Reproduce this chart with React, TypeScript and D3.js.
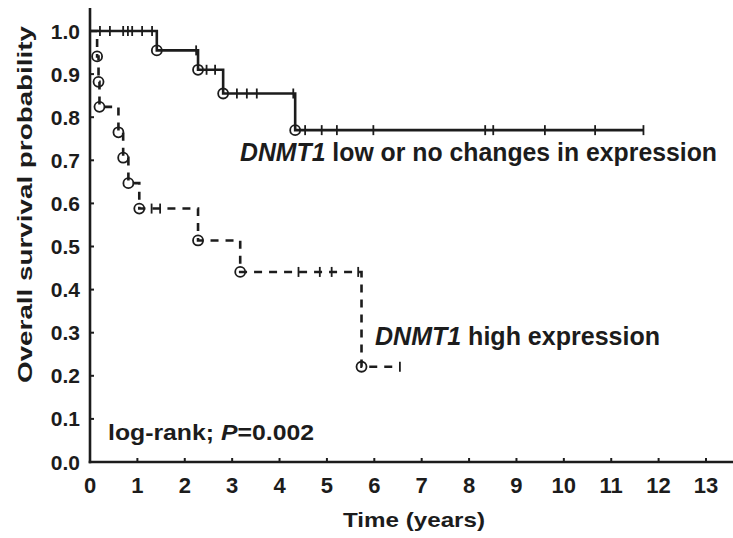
import React from "react";
import * as d3 from "d3";

const W = 733;
const H = 538;

const xTicks = [0, 1, 2, 3, 4, 5, 6, 7, 8, 9, 10, 11, 12, 13];
const yTicks = [0, 0.1, 0.2, 0.3, 0.4, 0.5, 0.6, 0.7, 0.8, 0.9, 1.0];

// DNMT1 low or no changes in expression (solid)
const lowDeathTimes = [1.41, 2.28, 2.81, 4.33];
const lowSurvival = [0.955, 0.91, 0.855, 0.77];
const lowCensorTimes = [0.21, 0.42, 0.7, 0.8, 0.89, 1.1, 1.31, 2.24, 2.46, 2.64, 3.1, 3.31, 3.52, 4.29, 4.54, 4.89, 5.21, 5.98, 8.34, 8.51, 9.6, 10.66, 11.68];
const lowEnd = 11.68;

// DNMT1 high expression (dashed)
const highDeathTimes = [0.15, 0.18, 0.2, 0.6, 0.7, 0.81, 1.04, 2.28, 3.17, 5.73];
const highSurvival = [0.941, 0.882, 0.824, 0.765, 0.706, 0.647, 0.588, 0.514, 0.441, 0.221];
const highCensorTimes = [1.3, 1.48, 4.4, 4.85, 5.1, 5.66, 6.54];
const highEnd = 6.54;

const FONT = "'Liberation Sans', Arial, sans-serif";
const INK = "#1c1c1c";

const x = d3.scaleLinear().domain([0, 13]).range([90, 706]);
const y = d3.scaleLinear().domain([0, 1]).range([462, 31]);

function survAt(t: number, times: number[], surv: number[]) {
  let s = 1;
  for (let i = 0; i < times.length; i++) if (times[i] <= t) s = surv[i];
  return s;
}

function curvePoints(times: number[], surv: number[], end: number): [number, number][] {
  const pts: [number, number][] = [[0, 1]];
  times.forEach((t, i) => pts.push([t, surv[i]]));
  pts.push([end, surv[surv.length - 1]]);
  return pts;
}

const line = d3
  .line<[number, number]>()
  .x((d) => x(d[0]))
  .y((d) => y(d[1]))
  .curve(d3.curveStepAfter);

function Curve({ times, surv, censors, end, dash }: { times: number[]; surv: number[]; censors: number[]; end: number; dash?: string }) {
  const d = line(curvePoints(times, surv, end)) || "";
  return (
    <g>
      <path d={d} fill="none" stroke={INK} strokeWidth={2.6} strokeDasharray={dash} />
      {censors.map((t, i) => {
        const cx = x(t);
        const cy = y(survAt(t, times, surv));
        return <line key={"c" + i} x1={cx} x2={cx} y1={cy - 5} y2={cy + 5} stroke={INK} strokeWidth={1.8} />;
      })}
      {times.map((t, i) => (
        <circle key={"e" + i} cx={x(t)} cy={y(surv[i])} r={5} fill="none" stroke={INK} strokeWidth={1.8} />
      ))}
    </g>
  );
}

export default function App() {
  return (
    <svg width={W} height={H} style={{ position: "absolute", left: 0, top: 0, background: "#fff" }}>
      <rect width={W} height={H} fill="#fff" />
      {/* axes */}
      <line x1={x(0)} x2={x(0)} y1={8} y2={y(0) + 1.3} stroke={INK} strokeWidth={2.6} />
      <line x1={x(0) - 1.3} x2={733} y1={y(0)} y2={y(0)} stroke={INK} strokeWidth={2.6} />
      {yTicks.map((v) => (
        <g key={"yt" + v}>
          <line x1={x(0)} x2={x(0) + 4} y1={y(v)} y2={y(v)} stroke={INK} strokeWidth={2} />
          <text x={80} y={y(v) + 7.5} textAnchor="end" fontFamily={FONT} fontWeight="bold" fontSize={21} fill={INK}>
            {v.toFixed(1)}
          </text>
        </g>
      ))}
      {xTicks.map((v) => (
        <g key={"xt" + v}>
          <line x1={x(v)} x2={x(v)} y1={y(0)} y2={y(0) - 4} stroke={INK} strokeWidth={2} />
          <text x={x(v)} y={492.5} textAnchor="middle" fontFamily={FONT} fontWeight="bold" fontSize={22} fill={INK}>
            {v}
          </text>
        </g>
      ))}
      <text
        transform={`translate(32,${204.5}) rotate(-90)`}
        textAnchor="middle"
        fontFamily={FONT}
        fontWeight="bold"
        fontSize={21}
        fill={INK}
        textLength={357}
        lengthAdjust="spacingAndGlyphs"
      >
        Overall survival probability
      </text>
      <text x={343} y={527} fontFamily={FONT} fontWeight="bold" fontSize={21} fill={INK} textLength={142} lengthAdjust="spacingAndGlyphs">
        Time (years)
      </text>

      <Curve times={lowDeathTimes} surv={lowSurvival} censors={lowCensorTimes} end={lowEnd} />
      <Curve times={highDeathTimes} surv={highSurvival} censors={highCensorTimes} end={highEnd} dash="8,7" />

      <text x={240} y={161} fontFamily={FONT} fontWeight="bold" fontSize={25} fill={INK} textLength={477} lengthAdjust="spacingAndGlyphs">
        <tspan fontStyle="italic">DNMT1</tspan> low or no changes in expression
      </text>
      <text x={375} y={345} fontFamily={FONT} fontWeight="bold" fontSize={25} fill={INK} textLength={285} lengthAdjust="spacingAndGlyphs">
        <tspan fontStyle="italic">DNMT1</tspan> high expression
      </text>
      <text x={108} y={440} fontFamily={FONT} fontWeight="bold" fontSize={22} fill={INK} textLength={206} lengthAdjust="spacingAndGlyphs">
        log-rank; <tspan fontStyle="italic">P</tspan>=0.002
      </text>
    </svg>
  );
}
